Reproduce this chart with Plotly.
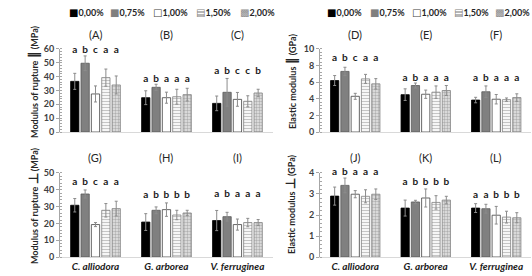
import plotly.graph_objects as go

species = ["C. alliodora", "G. arborea", "V. ferruginea"]
concentrations = ["0,00%", "0,75%", "1,00%", "1,50%", "2,00%"]

# values per species (rows) x concentration (columns)
mor_par = [[36.6, 49.7, 27.5, 39.3, 34.0], [24.8, 32.3, 24.8, 25.5, 27.0], [20.7, 28.7, 23.6, 22.2, 28.2]]
mor_par_err = [[5.8, 5.3, 5.8, 6.2, 6.5], [5.0, 2.2, 4.0, 5.4, 4.6], [5.3, 10.0, 5.0, 4.0, 2.7]]
mor_par_let = [["a", "b", "c", "a", "a"], ["a", "b", "a", "a", "a"], ["a", "b", "c", "c", "b"]]

em_par = [[6.2, 7.3, 4.3, 6.4, 5.8], [4.5, 5.6, 4.55, 4.8, 5.0], [3.85, 4.85, 3.95, 3.9, 4.15]]
em_par_err = [[0.6, 0.5, 0.36, 0.54, 0.63], [0.7, 0.3, 0.5, 0.75, 0.6], [0.33, 0.7, 0.57, 0.2, 0.45]]
em_par_let = [["a", "b", "c", "a", "a"], ["a", "b", "a", "a", "a"], ["a", "b", "a", "a", "a"]]

mor_perp = [[30.8, 37.5, 19.3, 27.8, 28.8], [20.8, 27.8, 28.2, 25.0, 26.2], [21.7, 24.0, 19.3, 20.5, 20.5]]
mor_perp_err = [[4.0, 2.4, 1.2, 4.0, 4.4], [5.0, 2.0, 4.0, 2.8, 1.6], [6.0, 2.6, 3.3, 2.5, 1.8]]
mor_perp_let = [["a", "b", "c", "a", "a"], ["a", "b", "b", "b", "b"], ["a", "b", "a", "a", "a"]]

em_perp = [[2.9, 3.41, 2.99, 2.89, 2.99], [2.33, 2.62, 2.81, 2.6, 2.71], [2.33, 2.3, 1.99, 1.9, 1.87]]
em_perp_err = [[0.43, 0.35, 0.17, 0.31, 0.25], [0.38, 0.08, 0.43, 0.32, 0.18], [0.21, 0.21, 0.42, 0.28, 0.24]]
em_perp_let = [["a", "b", "a", "a", "a"], ["a", "b", "b", "b", "b"], ["a", "a", "b", "b", "b"]]

letter_heights = [[59, 38.3, 43.6], [8.8, 6.5, 6.4], [44.5, 36.5, 37.3], [4.0, 3.56, 2.92]]
panel_labels = [["(A)", "(B)", "(C)"], ["(D)", "(E)", "(F)"], ["(G)", "(H)", "(I)"], ["(J)", "(K)", "(L)"]]
y_titles = [
    "Modulus of rupture <span style='font-size:13px'>∥</span> (MPa)",
    "Elastic modulus <span style='font-size:13px'>∥</span> (GPa)",
    "Modulus of rupture <span style='font-size:13px'>⊥</span> (MPa)",
    "Elastic modulus <span style='font-size:13px'>⊥</span> (GPa)",
]
y_ranges = [[0, 60], [0, 10], [0, 50], [0, 4]]
y_dticks = [10, 2, 10, 1]
y_minor = [2, 0.4, 2, 0.2]
legend_swatches = ["■", "■", "□", "▤", "▩"]
legend_swatch_colors = ["#000000", "#7f7f7f", "#404040", "#7f7f7f", "#8c8c8c"]

panels = [
    (mor_par, mor_par_err, mor_par_let),
    (em_par, em_par_err, em_par_let),
    (mor_perp, mor_perp_err, mor_perp_let),
    (em_perp, em_perp_err, em_perp_let),
]

FONT = "Lato"
styles = [
    dict(color="#000000", line=dict(color="#000000", width=0.8)),
    dict(color="#808080", line=dict(color="#595959", width=0.8)),
    dict(color="#ffffff", line=dict(color="#404040", width=0.8)),
    dict(color="#ffffff", line=dict(color="#808080", width=0.8),
         pattern=dict(shape="-", fgcolor="#8c8c8c", bgcolor="#ffffff", size=3, solidity=0.45)),
    dict(color="#d0d0d0", line=dict(color="#808080", width=0.8),
         pattern=dict(shape=".", fgcolor="#7a7a7a", bgcolor="#e6e6e6", size=3, solidity=0.5)),
]

fig = go.Figure()
axis_ids = ["", "2", "3", "4"]
for p, (vals, errs, lets) in enumerate(panels):
    ax = axis_ids[p]
    for i, conc in enumerate(concentrations):
        fig.add_trace(go.Bar(
            x=species, y=[row[i] for row in vals], name=conc,
            error_y=dict(type="data", array=[row[i] for row in errs], color="#8c8c8c", thickness=1, width=1.5),
            marker=styles[i], offsetgroup=str(i),
            xaxis="x" + ax, yaxis="y" + ax, showlegend=False, hoverinfo="skip",
        ))
    for i, conc in enumerate(concentrations):
        fig.add_trace(go.Scatter(
            x=species, y=letter_heights[p], text=[row[i] for row in lets], mode="text",
            offsetgroup=str(i), textfont=dict(family=FONT, size=10, color="#1a1a1a", weight="bold"),
            xaxis="x" + ax, yaxis="y" + ax, showlegend=False, cliponaxis=False, hoverinfo="skip",
        ))

xdom = [[0.1128, 0.513], [0.6015, 0.999], [0.1128, 0.513], [0.6015, 0.999]]
ydom = [[0.5217, 0.8225], [0.5217, 0.8225], [0.0688, 0.3732], [0.0688, 0.3732]]
layout = dict(
    width=532, height=276, margin=dict(l=0, r=0, t=0, b=0, autoexpand=False),
    paper_bgcolor="white", plot_bgcolor="white", showlegend=False,
    barmode="group", bargap=0.27, bargroupgap=0.2, scattermode="group",
    font=dict(family=FONT, color="#404040"),
)
annotations = []
yt_pos = [(0.062, 0.7065), (0.549, 0.703), (0.062, 0.257), (0.545, 0.261)]
label_y = [1 - 34 / 276, 1 - 34 / 276, 1 - 157 / 276, 1 - 157 / 276]
for p in range(4):
    ax = axis_ids[p]
    layout["xaxis" + ax] = dict(
        domain=xdom[p], anchor="y" + ax, type="category", categoryorder="array", categoryarray=species,
        showline=True, linecolor="#d9d9d9", linewidth=1, ticks="", showgrid=False, zeroline=False,
        showticklabels=(p >= 2), tickvals=species, automargin=False,
        ticktext=["<b><i>" + s + "</i></b>" for s in species],
        tickfont=dict(family=FONT, size=10, color="#1a1a1a"),
    )
    layout["yaxis" + ax] = dict(
        domain=ydom[p], anchor="x" + ax, range=y_ranges[p], dtick=y_dticks[p], automargin=False,
        showline=True, linecolor="#a6a6a6", linewidth=1, ticks="outside", ticklen=3, tickcolor="#a6a6a6",
        minor=dict(dtick=y_minor[p], ticks="inside", ticklen=2, tickcolor="#a6a6a6"),
        showgrid=False, zeroline=False,
        tickfont=dict(family=FONT, size=9, color="#404040", weight="bold"),
    )
    annotations.append(dict(
        text="<b>" + y_titles[p] + "</b>", textangle=-90, xref="paper", yref="paper",
        x=yt_pos[p][0], y=yt_pos[p][1], xanchor="center", yanchor="middle", showarrow=False,
        font=dict(family=FONT, size=9, color="#262626"),
    ))
    for k, s in enumerate(species):
        annotations.append(dict(
            text=panel_labels[p][k], xref="x" + ax, yref="paper", x=s, y=label_y[p],
            xanchor="center", yanchor="middle",
            showarrow=False, font=dict(family=FONT, size=11, color="#262626"),
        ))

# legends (one above each top panel)
legend_x = [[67, 108, 151, 194, 238], [325, 368, 410, 452, 493]]
for row in legend_x:
    for i, conc in enumerate(concentrations):
        annotations.append(dict(
            text="<span style='font-family:DejaVu Sans;font-size:10px;color:%s'>%s</span><b>%s</b>"
                 % (legend_swatch_colors[i], legend_swatches[i], conc),
            xref="paper", yref="paper", x=row[i] / 532, y=1 - 13 / 276,
            xanchor="left", yanchor="middle", showarrow=False,
            font=dict(family=FONT, size=9, color="#262626"),
        ))
layout["annotations"] = annotations
fig.update_layout(**layout)
fig.write_html("out.html", config={"displayModeBar": False},
               post_script="document.body.style.margin='0';document.body.style.overflow='hidden';")
